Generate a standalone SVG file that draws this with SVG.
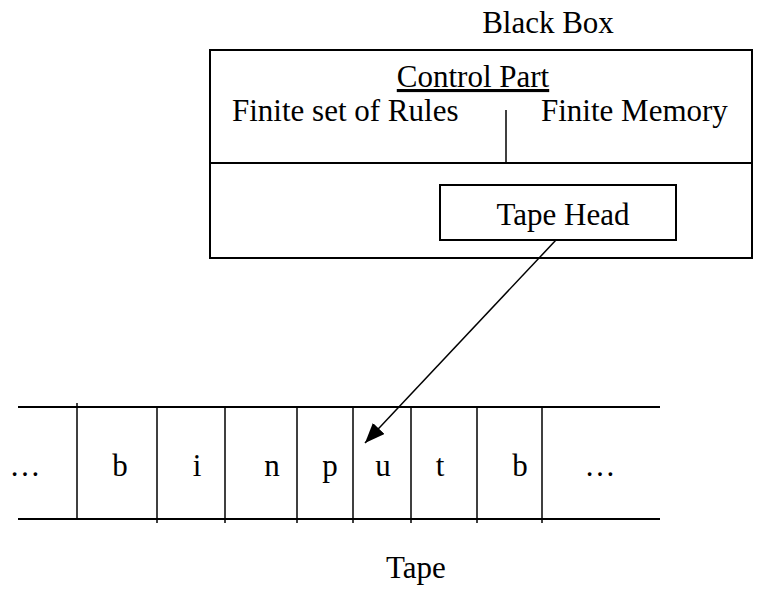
<svg xmlns="http://www.w3.org/2000/svg" width="763" height="592" viewBox="0 0 763 592">
<style>
text{font-family:"Liberation Serif","Times New Roman",serif;font-size:31px;fill:#000}
.ln{stroke:#000;stroke-width:2;fill:none}
.tn{stroke:#000;stroke-width:1.5;fill:none}
</style>
<defs>
<marker id="ah" markerWidth="20" markerHeight="16" refX="20" refY="8" orient="auto" markerUnits="userSpaceOnUse" viewBox="0 0 20 16">
<path d="M0,0 L20,8 L0,16 z" fill="#000"/>
</marker>
</defs>
<rect width="763" height="592" fill="#fff"/>
<text x="548" y="33" text-anchor="middle">Black Box</text>
<g id="blackbox">
<rect class="ln" x="210" y="50" width="542" height="208"/>
<line class="ln" x1="210" y1="163" x2="752" y2="163"/>
<line class="tn" x1="506" y1="110" x2="506" y2="163"/>
<text x="473" y="87" text-anchor="middle" text-decoration="underline">Control Part</text>
<text x="232" y="121">Finite set of Rules</text>
<text x="541" y="121">Finite Memory</text>
</g>
<g id="tapehead">
<rect class="ln" x="440" y="185" width="236" height="55"/>
<text x="563" y="225" text-anchor="middle">Tape Head</text>
</g>
<g id="connectors">
<line class="tn" x1="556" y1="240" x2="365" y2="443" marker-end="url(#ah)"/>
</g>
<g id="tape">
<line class="ln" x1="18" y1="407" x2="660" y2="407"/>
<line class="ln" x1="18" y1="519" x2="660" y2="519"/>
<g class="tn">
<line x1="77" y1="403" x2="77" y2="519"/>
<line x1="157" y1="407" x2="157" y2="523"/>
<line x1="225" y1="407" x2="225" y2="523"/>
<line x1="297" y1="407" x2="297" y2="523"/>
<line x1="353" y1="407" x2="353" y2="523"/>
<line x1="411" y1="407" x2="411" y2="523"/>
<line x1="477" y1="407" x2="477" y2="523"/>
<line x1="542" y1="407" x2="542" y2="523"/>
</g>
<text x="25" y="476" text-anchor="middle">…</text>
<text x="120" y="476" text-anchor="middle">b</text>
<text x="197" y="476" text-anchor="middle">i</text>
<text x="272" y="476" text-anchor="middle">n</text>
<text x="330" y="476" text-anchor="middle">p</text>
<text x="383" y="476" text-anchor="middle">u</text>
<text x="440" y="476" text-anchor="middle">t</text>
<text x="520" y="476" text-anchor="middle">b</text>
<text x="600" y="476" text-anchor="middle">…</text>
</g>
<text x="416" y="578" text-anchor="middle">Tape</text>
</svg>
